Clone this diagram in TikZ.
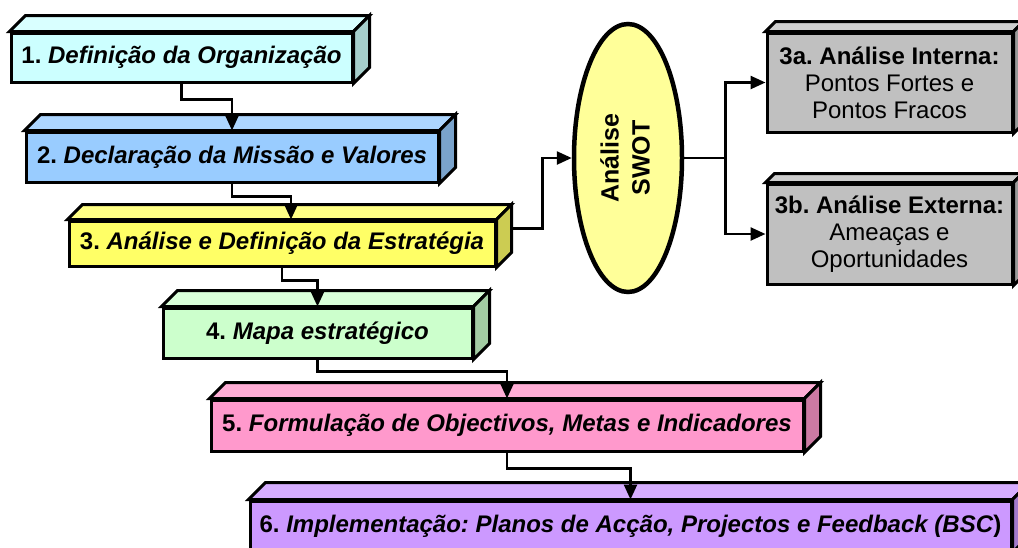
\documentclass[tikz,border=0pt]{standalone}
\usepackage{fontspec}
\setmainfont{Liberation Sans}
\usepackage{graphicx}
\usetikzlibrary{calc,arrows.meta,shapes.geometric}
\frenchspacing
\definecolor{orgfront}{HTML}{CCFFFF}\definecolor{orgtop}{HTML}{D9FFFF}\definecolor{orgside}{HTML}{A6CFCC}
\definecolor{misfront}{HTML}{99CCFF}\definecolor{mistop}{HTML}{ADD6FF}\definecolor{misside}{HTML}{7AA3CC}
\definecolor{strfront}{HTML}{FFFF66}\definecolor{strtop}{HTML}{FFFF85}\definecolor{strside}{HTML}{CCCC52}
\definecolor{mapfront}{HTML}{CCFFCC}\definecolor{maptop}{HTML}{D9FFD9}\definecolor{mapside}{HTML}{A3CCA3}
\definecolor{forfront}{HTML}{FF99CC}\definecolor{fortop}{HTML}{FFADD6}\definecolor{forside}{HTML}{CC7AA3}
\definecolor{impfront}{HTML}{CC99FF}\definecolor{imptop}{HTML}{D6ADFF}\definecolor{impside}{HTML}{A37ACC}
\definecolor{swfront}{HTML}{C0C0C0}\definecolor{swtop}{HTML}{CDCDCD}\definecolor{swside}{HTML}{9A9A9A}
\definecolor{swotfill}{HTML}{FFFF99}
\tikzset{
  frontbox/.style={draw=black, line width=3pt, inner sep=0pt, text=black,
    font=\fontsize{24}{27}\selectfont\bfseries},
  faceline/.style={draw=black, line width=3pt},
  conn/.style={line width=2.5pt, -{Triangle[length=15pt,width=13pt]}}
}
% top and right faces of a box: node, top colour, side colour, depth
\newcommand\boxfaces[4]{%
  \draw[faceline,fill=#2] (#1.north west) -- ++(#4,-#4) -- ($(#1.north east)+(#4,-#4)$) -- (#1.north east) -- cycle;
  \draw[faceline,fill=#3] (#1.north east) -- ++(#4,-#4) -- ($(#1.south east)+(#4,-#4)$) -- (#1.south east) -- cycle;
}
\begin{document}
\begin{tikzpicture}[x=1pt,y=-1pt]
		%%%%% START %%%%%
		\useasboundingbox (0,0) rectangle (1018,547);
		\clip (0,0) rectangle (1018,547);
		
		\node[frontbox, fill=orgfront, minimum width=341, minimum height=49] (org) at (181.5,57.5) {1. \textit{Definição da Organização}};
		\boxfaces{org}{orgtop}{orgside}{16}
		
		\node[frontbox, fill=misfront, minimum width=412, minimum height=50] (miss) at (232,157) {2. \textit{Declaração da Missão e Valores}};
		\boxfaces{miss}{mistop}{misside}{16}
		
		\node[frontbox, fill=strfront, minimum width=426, minimum height=45] (strat) at (282,243.5) {3. \textit{Análise e Definição da Estratégia}};
		\boxfaces{strat}{strtop}{strside}{15}
		
		\node[frontbox, fill=mapfront, minimum width=309, minimum height=50] (mapa) at (317.5,333) {4. \textit{Mapa estratégico}};
		\boxfaces{mapa}{maptop}{mapside}{16}
		
		\node[frontbox, fill=forfront, minimum width=592, minimum height=51] (form) at (507,425.5) {5. \textit{Formulação de Objectivos, Metas e Indicadores}};
		\boxfaces{form}{fortop}{forside}{16}
		
		\node[frontbox, fill=impfront, minimum width=761, minimum height=50] (impl) at (630.5,526) {6. \textit{Implementação: Planos de Acção, Projectos e Feedback (BSC})};
		\boxfaces{impl}{imptop}{impside}{17}
		
		\node[ellipse, draw=black, line width=4.5pt, fill=swotfill, minimum width=108, minimum height=268, inner sep=0pt,
		  font=\fontsize{25}{31}\selectfont\bfseries] (swot) at (628,158) {\rotatebox{90}{\begin{tabular}{@{}c@{}}Análise\\SWOT\end{tabular}}};
		
		\node[frontbox, fill=swfront, minimum width=245, minimum height=99, align=center] (int) at (889.5,82.5)
		  {3a. Análise Interna:\\\mdseries Pontos Fortes e\\\mdseries Pontos Fracos};
		\boxfaces{int}{swtop}{swside}{10}
		
		\node[frontbox, fill=swfront, minimum width=245, minimum height=100, align=center] (ext) at (889.5,234)
		  {3b. Análise Externa:\\\mdseries Ameaças e\\\mdseries Oportunidades};
		\boxfaces{ext}{swtop}{swside}{9}
		
		\draw[conn] (org.south) -- ++(0,16) -| (miss.north);
		\draw[conn] (miss.south) -- ++(0,13) -| ([xshift=9pt]strat.north);
		\draw[conn] (strat.south) -- ++(0,13) -| (mapa.north);
		\draw[conn] (mapa.south) -- ++(0,12) -| (form.north);
		\draw[conn] (form.south) -- ++(0,16) -| (impl.north);
		
		\draw[conn] ($(strat.east)+(15,-15)$) -- ++(31,0) |- (swot.west);
		\draw[conn] (swot.east) -- ++(41,0) |- (int.west);
		\draw[conn] (swot.east) -- ++(41,0) |- (ext.west);
		%%%%% END %%%%%
	\end{tikzpicture}
\end{document}
